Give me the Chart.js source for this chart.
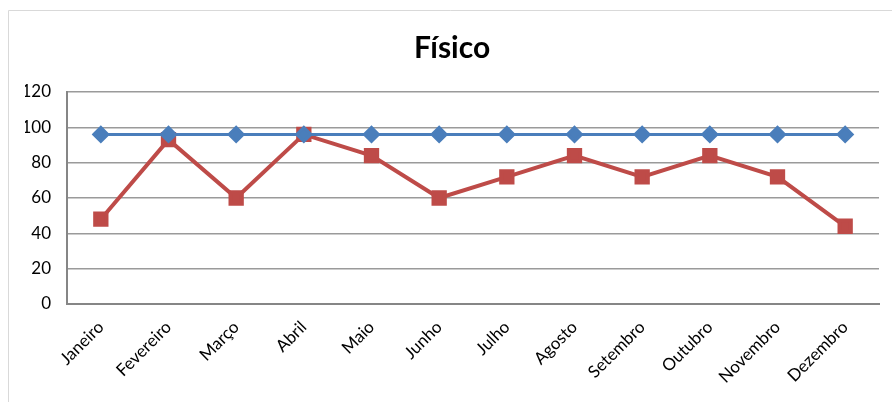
<!DOCTYPE html>
<html>
<head>
<meta charset="utf-8">
<script src="https://cdn.jsdelivr.net/npm/chart.js@4.4.1/dist/chart.umd.min.js"></script>
<style>
  html, body { margin: 0; padding: 0; background: #fff; }
  #wrap { position: relative; width: 892px; height: 402px; }
</style>
</head>
<body>
<div id="wrap"><canvas id="fisicoChart" width="892" height="402"></canvas></div>
<script>
// dados
const meses = ['Janeiro', 'Fevereiro', 'Março', 'Abril', 'Maio', 'Junho',
  'Julho', 'Agosto', 'Setembro', 'Outubro', 'Novembro', 'Dezembro'];
const meta = [96, 96, 96, 96, 96, 96, 96, 96, 96, 96, 96, 96];
const realizado = [48, 93, 60, 96, 84, 60, 72, 84, 72, 84, 72, 44];
const yTicks = [0, 20, 40, 60, 80, 100, 120];

const FONT = 'Lato, "Open Sans", sans-serif';

// borda externa do gráfico (estilo Excel)
const frame = {
  id: 'frame',
  beforeDraw(chart) {
    const ctx = chart.ctx;
    ctx.save();
    ctx.strokeStyle = '#d9d9d9';
    ctx.lineWidth = 1;
    ctx.beginPath();
    ctx.moveTo(8.5, 402);
    ctx.lineTo(8.5, 10.5);
    ctx.lineTo(892, 10.5);
    ctx.stroke();
    ctx.restore();
  }
};

new Chart(document.getElementById('fisicoChart'), {
  type: 'line',
  data: {
    labels: meses,
    datasets: [
      {
        label: 'Meta',
        data: meta,
        borderColor: '#4a7ebb',
        backgroundColor: '#4a7ebb',
        borderWidth: 3,
        pointStyle: 'rectRot',
        pointRadius: 7,
        pointHoverRadius: 7,
        tension: 0
      },
      {
        label: 'Realizado',
        data: realizado,
        borderColor: '#be4b48',
        backgroundColor: '#be4b48',
        borderWidth: 4,
        pointStyle: 'rect',
        pointRadius: 8,
        pointHoverRadius: 8,
        tension: 0
      }
    ]
  },
  options: {
    responsive: false,
    animation: false,
    layout: { padding: { left: 25, right: 13, top: 0, bottom: 0 } },
    plugins: {
      legend: { display: false },
      tooltip: { enabled: false },
      title: {
        display: true,
        text: 'Físico',
        color: '#000',
        font: { family: FONT, size: 30, weight: 'bold' },
        padding: { top: 30, bottom: 26 }
      }
    },
    scales: {
      x: {
        offset: true,
        grid: { display: false, drawTicks: false },
        border: { display: true, color: '#868686', width: 2 },
        ticks: {
          color: '#000',
          font: { family: FONT, size: 17 },
          minRotation: 45,
          maxRotation: 45,
          padding: 13
        },
        afterFit(scale) { scale.height = 98; }
      },
      y: {
        min: 0,
        max: 120,
        afterBuildTicks(scale) { scale.ticks = yTicks.map(v => ({ value: v })); },
        grid: { color: '#9a9a9a', lineWidth: 1.5, drawTicks: false },
        border: { display: true, color: '#868686', width: 2 },
        ticks: {
          color: '#000',
          font: { family: FONT, size: 17 },
          padding: 16
        },
        afterFit(scale) { scale.width = 42; }
      }
    }
  },
  plugins: [frame]
});
</script>
</body>
</html>
